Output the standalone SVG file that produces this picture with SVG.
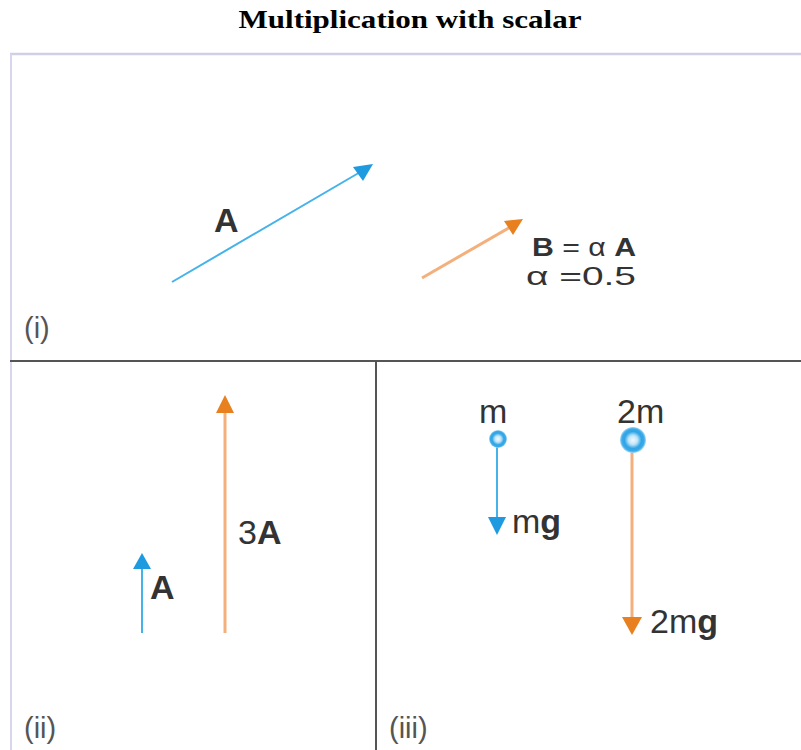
<svg xmlns="http://www.w3.org/2000/svg" width="801" height="750" viewBox="0 0 801 750">
<style>
.t{font-family:"Liberation Sans",Arial,sans-serif;font-size:34px;fill:#333}
.s{font-size:26px}
.b{font-weight:bold}
.lab{font-family:"Liberation Sans",Arial,sans-serif;font-size:29px;fill:#555}
.blue{stroke:#45b2ea;stroke-width:2;fill:none}
.or{stroke:#f4b07c;stroke-width:3;fill:none}
.bh{fill:#1e9be0}
.oh{fill:#e8801f}
</style>
<defs>
<radialGradient id="g1">
<stop offset="0" stop-color="#f2fafe"/>
<stop offset="0.35" stop-color="#bfe4f8"/>
<stop offset="0.65" stop-color="#2fa5e6"/>
<stop offset="0.85" stop-color="#3aa9e7"/>
<stop offset="1" stop-color="#a8daf5"/>
</radialGradient>
</defs>
<rect width="801" height="750" fill="#fff"/>
<text x="410" y="28" text-anchor="middle" font-family="'Liberation Serif','Times New Roman',serif" font-weight="bold" font-size="25" fill="#000" textLength="343" lengthAdjust="spacingAndGlyphs">Multiplication with scalar</text>
<g id="frame">
<line x1="10" y1="54" x2="801" y2="54" stroke="#cfcfe6" stroke-width="2.5"/>
<line x1="11" y1="54" x2="11" y2="750" stroke="#d6d6ee" stroke-width="2"/>
<line x1="10" y1="361" x2="801" y2="361" stroke="#555" stroke-width="2"/>
<line x1="376" y1="361" x2="376" y2="750" stroke="#555" stroke-width="2"/>
</g>
<g id="connectors">
<line class="blue" x1="172" y1="282" x2="362" y2="171"/>
<polygon class="bh" points="353,167 373,164 363,181"/>
<line class="or" x1="422" y1="278" x2="512" y2="226" stroke-width="2"/>
<polygon class="oh" points="504,221 523,219 513,235"/>
<line class="blue" x1="142" y1="633" x2="142" y2="565" stroke-width="2.5"/>
<polygon class="bh" points="142,553 151,569 133,569"/>
<line class="or" x1="225" y1="633" x2="225" y2="408"/>
<polygon class="oh" points="225,395 234,413 216,413"/>
<line class="blue" x1="497" y1="445" x2="497" y2="520"/>
<polygon class="bh" points="488,517 506,517 497,535"/>
<line class="or" x1="632" y1="446" x2="632" y2="620" stroke-width="2.5"/>
<polygon class="oh" points="622,617 642,617 632,635"/>
</g>
<g id="panel-i">
<text class="t b" x="214" y="232">A</text>
<text class="t s" x="532" y="256" textLength="104" lengthAdjust="spacingAndGlyphs"><tspan class="b">B</tspan> = α <tspan class="b">A</tspan></text>
<text class="t s" x="526" y="285" textLength="110" lengthAdjust="spacingAndGlyphs">α =0.5</text>
<text class="lab" x="24" y="338">(i)</text>
</g>
<g id="panel-ii">
<text class="t b" x="150" y="599">A</text>
<text class="t" x="238" y="544">3<tspan class="b">A</tspan></text>
<text class="lab" x="24" y="738">(ii)</text>
</g>
<g id="panel-iii">
<g id="mass-m">
<circle cx="498" cy="439" r="9" fill="url(#g1)"/>
<text class="t" x="479" y="423">m</text>
</g>
<g id="mass-2m">
<circle cx="633" cy="440" r="13" fill="url(#g1)"/>
<text class="t" x="617" y="423">2m</text>
</g>
<text class="t" x="512" y="533">m<tspan class="b">g</tspan></text>
<text class="t" x="650" y="633">2m<tspan class="b">g</tspan></text>
<text class="lab" x="389" y="738">(iii)</text>
</g>
</svg>
